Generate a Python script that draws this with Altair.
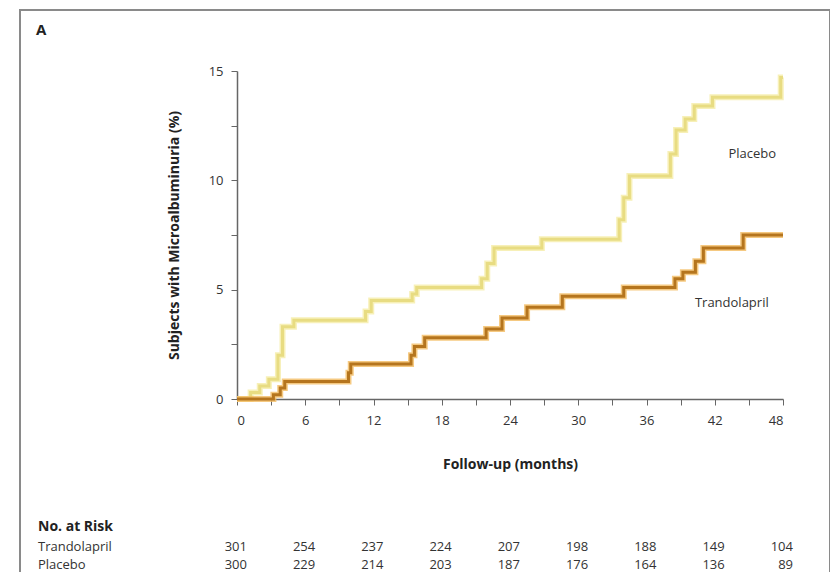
import altair as alt
import pandas as pd

# ---- data ----
tr_t = [0, 3.2, 3.8, 4.2, 9.8, 10.0, 15.3, 15.6, 16.5, 21.9, 23.3, 25.5, 28.6, 34.0, 38.5, 39.2, 40.3, 41.0, 44.5, 48.0]
tr_v = [0, 0.2, 0.5, 0.8, 1.2, 1.6, 2.0, 2.4, 2.8, 3.2, 3.7, 4.2, 4.7, 5.1, 5.5, 5.8, 6.3, 6.9, 7.5, 7.5]

pl_t = [0, 1.2, 2.0, 2.8, 3.6, 4.0, 5.0, 11.3, 11.8, 15.4, 15.8, 21.5, 22.0, 22.6, 26.8, 33.6, 34.0, 34.5, 38.1, 38.6, 39.4, 40.2, 41.8, 47.8, 48.0]
pl_v = [0, 0.3, 0.6, 0.9, 2.0, 3.3, 3.6, 4.0, 4.5, 4.8, 5.1, 5.5, 6.2, 6.9, 7.3, 8.2, 9.2, 10.2, 11.2, 12.3, 12.8, 13.4, 13.8, 14.7, 14.7]

risk_months = [0, 6, 12, 18, 24, 30, 36, 42, 48]
tr_risk = [301, 254, 237, 224, 207, 198, 188, 149, 104]
pl_risk = [300, 229, 214, 203, 187, 176, 164, 136, 89]

series_names = ["Placebo", "Trandolapril"]
label_t = [45.3, 43.5]
label_v = [11.2, 4.4]

# ---- tables ----
tr_df = pd.DataFrame({"month": tr_t, "pct": tr_v})
pl_df = pd.DataFrame({"month": pl_t, "pct": pl_v})
lab_df = pd.DataFrame({"month": label_t, "pct": label_v, "name": series_names})
risk_tr = pd.DataFrame({"month": risk_months, "n": tr_risk})
risk_pl = pd.DataFrame({"month": risk_months, "n": pl_risk})

FONT = "Open Sans"
W, H = 546, 328

xs = alt.Scale(domain=[0, 48], nice=False)
ys = alt.Scale(domain=[0, 15], nice=False)

x_axis = alt.Axis(values=list(range(0, 49, 3)),
                  labelExpr="datum.value % 6 == 0 ? datum.label : ''",
                  title="Follow-up (months)", grid=False, tickSize=6,
                  labelPadding=9, labelFontSize=13, labelFont=FONT, labelColor="#333",
                  titleFont=FONT, titleFontSize=14, titleFontWeight="bold", titleColor="#222",
                  titleY=58, domainColor="#666", tickColor="#666", domainWidth=1.5)
y_axis = alt.Axis(values=[0, 2.5, 5, 7.5, 10, 12.5, 15],
                  labelExpr="datum.value % 5 == 0 ? datum.label : ''",
                  title="Subjects with Microalbuminuria (%)", grid=False, tickSize=6,
                  labelPadding=8, labelFontSize=13, labelFont=FONT, labelColor="#333",
                  titleFont=FONT, titleFontSize=14, titleFontWeight="bold", titleColor="#222",
                  titleX=-56, titleY=H / 2, domainColor="#666", tickColor="#666", domainWidth=1.5)

X = alt.X("month:Q", scale=xs, axis=x_axis)
Y = alt.Y("pct:Q", scale=ys, axis=y_axis)

def step_line(df, color, width, opacity=1.0):
    return alt.Chart(df).mark_line(interpolate="step-after", color=color, strokeWidth=width,
                                   opacity=opacity, strokeJoin="miter").encode(x=X, y=Y)

pl_outer = step_line(pl_df, "#f6eeb0", 6, 0.9)
pl_inner = step_line(pl_df, "#e8dc82", 3)
tr_outer = step_line(tr_df, "#f2bb62", 6, 0.8)
tr_inner = step_line(tr_df, "#b5751e", 3)

labels = alt.Chart(lab_df).mark_text(font=FONT, fontSize=13, color="#333").encode(
    x=X, y=Y, text="name:N")

frame = alt.Chart(pd.DataFrame({"a": [0]})).mark_rect(
    fill=None, stroke="#8a8a8a", strokeWidth=2).encode(
    x=alt.value(-217), x2=alt.value(593), y=alt.value(-61), y2=alt.value(530))

panel = alt.Chart(pd.DataFrame({"t": ["A"]})).mark_text(
    font=FONT, fontSize=15, fontWeight="bold", color="#222", align="left").encode(
    x=alt.value(-201), y=alt.value(-41), text="t:N")

risk_head = alt.Chart(pd.DataFrame({"t": ["No. at Risk"]})).mark_text(
    font=FONT, fontSize=14, fontWeight="bold", color="#222", align="left").encode(
    x=alt.value(-199), y=alt.value(456), text="t:N")

row_tr = alt.Chart(pd.DataFrame({"t": ["Trandolapril"]})).mark_text(
    font=FONT, fontSize=13, color="#333", align="left").encode(
    x=alt.value(-199), y=alt.value(476), text="t:N")
row_pl = alt.Chart(pd.DataFrame({"t": ["Placebo"]})).mark_text(
    font=FONT, fontSize=13, color="#333", align="left").encode(
    x=alt.value(-199), y=alt.value(494), text="t:N")

risk_tr_txt = alt.Chart(risk_tr).mark_text(font=FONT, fontSize=13, color="#333",
                                           align="right", dx=10).encode(
    x=X, y=alt.value(476), text="n:Q")
risk_pl_txt = alt.Chart(risk_pl).mark_text(font=FONT, fontSize=13, color="#333",
                                           align="right", dx=10).encode(
    x=X, y=alt.value(494), text="n:Q")

chart = alt.layer(
    frame, pl_outer, pl_inner, tr_outer, tr_inner, labels, panel,
    risk_head, row_tr, row_pl, risk_tr_txt, risk_pl_txt
).properties(
    width=W, height=H,
    background="white",
    autosize=alt.AutoSizeParams(type="none"),
    padding={"left": 229, "top": 63, "right": 47, "bottom": 173},
).configure_view(stroke=None)

chart.save("out.html", embed_options={"renderer": "svg", "actions": False})
